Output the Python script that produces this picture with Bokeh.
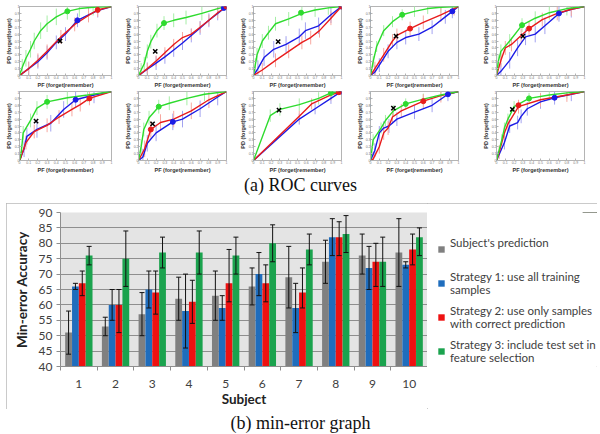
from bokeh.plotting import figure
from bokeh.layouts import column, row
from bokeh.models import (Range1d, FixedTicker, Legend, LegendItem, Whisker, Spacer,
                          TeeHead, ColumnDataSource, Label, InlineStyleSheet)
from bokeh.transform import dodge
from bokeh.embed import file_html
from bokeh.resources import INLINE

# ---------------- ROC curves (10 subjects) ----------------
roc_green_x = [
    [0, 0.03, 0.07, 0.12, 0.16, 0.23, 0.3, 0.4, 0.52, 0.65, 0.8, 1.0],
    [0, 0.03, 0.065, 0.1, 0.14, 0.21, 0.29, 0.4, 0.54, 0.72, 0.9, 1.0],
    [0, 0.02, 0.04, 0.1, 0.17, 0.25, 0.4, 0.55, 0.7, 0.85, 1.0],
    [0, 0.03, 0.07, 0.15, 0.25, 0.36, 0.5, 0.65, 0.8, 1.0],
    [0, 0.02, 0.05, 0.15, 0.29, 0.44, 0.6, 0.8, 1.0],
    [0, 0.02, 0.04, 0.12, 0.19, 0.3, 0.52, 0.74, 1.0],
    [0, 0.03, 0.06, 0.12, 0.23, 0.35, 0.55, 0.75, 1.0],
    [0, 0.19, 0.3, 0.52, 0.74, 0.88, 1.0],
    [0, 0.03, 0.12, 0.17, 0.26, 0.4, 0.6, 0.8, 1.0],
    [0, 0.06, 0.09, 0.13, 0.2, 0.37, 0.6, 0.8, 1.0],
]
roc_green_y = [
    [0, 0.12, 0.25, 0.38, 0.5, 0.65, 0.75, 0.85, 0.93, 0.97, 0.99, 1.0],
    [0, 0.08, 0.17, 0.35, 0.49, 0.65, 0.76, 0.8, 0.84, 0.9, 0.97, 1.0],
    [0, 0.15, 0.3, 0.5, 0.62, 0.75, 0.82, 0.9, 0.95, 0.98, 1.0],
    [0, 0.2, 0.42, 0.65, 0.78, 0.88, 0.93, 0.97, 0.99, 1.0],
    [0, 0.2, 0.35, 0.5, 0.73, 0.83, 0.91, 0.97, 1.0],
    [0, 0.13, 0.4, 0.58, 0.76, 0.85, 0.91, 0.95, 1.0],
    [0, 0.2, 0.45, 0.62, 0.78, 0.83, 0.9, 0.96, 1.0],
    [0, 0.65, 0.74, 0.81, 0.9, 0.98, 1.0],
    [0, 0.3, 0.47, 0.58, 0.72, 0.82, 0.89, 0.95, 1.0],
    [0, 0.3, 0.47, 0.6, 0.78, 0.9, 0.95, 0.98, 1.0],
]
roc_blue_x = [
    [0, 0.1, 0.2, 0.3, 0.4, 0.5, 0.63, 0.75, 0.85, 1.0],
    [0, 0.1, 0.2, 0.3, 0.4, 0.5, 0.6, 0.7, 0.8, 0.9, 1.0],
    [0, 0.05, 0.12, 0.23, 0.37, 0.52, 0.59, 0.74, 0.88, 1.0],
    [0, 0.05, 0.1, 0.2, 0.3, 0.4, 0.55, 0.7, 0.85, 0.93, 1.0],
    [0, 0.05, 0.15, 0.24, 0.33, 0.44, 0.55, 0.71, 0.85, 1.0],
    [0, 0.05, 0.08, 0.19, 0.34, 0.48, 0.61, 0.81, 1.0],
    [0, 0.05, 0.1, 0.2, 0.39, 0.5, 0.7, 0.9, 1.0],
    [0, 0.52, 0.7, 0.88, 1.0],
    [0, 0.05, 0.1, 0.15, 0.21, 0.3, 0.5, 0.7, 0.88, 1.0],
    [0, 0.01, 0.09, 0.15, 0.24, 0.28, 0.35, 0.5, 0.66, 0.85, 1.0],
]
roc_blue_y = [
    [0, 0.1, 0.2, 0.33, 0.48, 0.6, 0.8, 0.88, 0.94, 1.0],
    [0, 0.09, 0.18, 0.27, 0.37, 0.47, 0.58, 0.69, 0.8, 0.9, 1.0],
    [0, 0.1, 0.26, 0.38, 0.45, 0.56, 0.65, 0.72, 0.88, 1.0],
    [0, 0.05, 0.15, 0.35, 0.48, 0.55, 0.6, 0.7, 0.85, 0.93, 1.0],
    [0, 0.06, 0.22, 0.4, 0.56, 0.6, 0.72, 0.9, 0.96, 1.0],
    [0, 0.17, 0.35, 0.45, 0.54, 0.74, 0.88, 0.95, 1.0],
    [0, 0.05, 0.25, 0.4, 0.56, 0.6, 0.75, 0.92, 1.0],
    [0, 0.6, 0.75, 0.9, 1.0],
    [0, 0.15, 0.4, 0.47, 0.5, 0.6, 0.7, 0.8, 0.96, 1.0],
    [0, 0.03, 0.26, 0.5, 0.55, 0.64, 0.75, 0.85, 0.91, 0.96, 1.0],
]
roc_red_x = [
    [0, 0.1, 0.2, 0.3, 0.45, 0.6, 0.75, 0.85, 1.0],
    [0, 0.1, 0.2, 0.3, 0.4, 0.5, 0.6, 0.7, 0.8, 0.9, 1.0],
    [0, 0.1, 0.25, 0.4, 0.55, 0.65, 0.75, 0.88, 1.0],
    [0, 0.05, 0.15, 0.25, 0.3, 0.45, 0.6, 0.8, 0.95, 1.0],
    [0, 0.05, 0.1, 0.17, 0.28, 0.37, 0.52, 0.69, 0.85, 1.0],
    [0, 0.01, 0.07, 0.16, 0.3, 0.43, 0.57, 0.66, 0.76, 1.0],
    [0, 0.07, 0.14, 0.25, 0.4, 0.6, 0.8, 1.0],
    [0, 0.52, 0.66, 0.88, 1.0],
    [0, 0.03, 0.1, 0.15, 0.2, 0.25, 0.35, 0.6, 0.8, 1.0],
    [0, 0.03, 0.09, 0.13, 0.25, 0.5, 0.8, 1.0],
]
roc_red_y = [
    [0, 0.1, 0.22, 0.35, 0.56, 0.74, 0.87, 0.95, 1.0],
    [0, 0.1, 0.21, 0.33, 0.45, 0.55, 0.6, 0.7, 0.8, 0.91, 1.0],
    [0, 0.08, 0.22, 0.35, 0.48, 0.55, 0.65, 0.83, 1.0],
    [0, 0.1, 0.3, 0.5, 0.58, 0.68, 0.77, 0.88, 0.97, 1.0],
    [0, 0.22, 0.4, 0.45, 0.58, 0.68, 0.81, 0.9, 0.96, 1.0],
    [0, 0.03, 0.26, 0.42, 0.51, 0.63, 0.74, 0.81, 0.9, 1.0],
    [0, 0.17, 0.45, 0.55, 0.6, 0.72, 0.88, 1.0],
    [0, 0.64, 0.82, 0.95, 1.0],
    [0, 0.02, 0.2, 0.4, 0.47, 0.63, 0.72, 0.86, 0.94, 1.0],
    [0, 0.12, 0.4, 0.53, 0.78, 0.88, 0.95, 1.0],
]
# error half-widths of the ROC curves (per subject)
roc_green_err = [0.12, 0.1, 0.1, 0.08, 0.1, 0.1, 0.1, 0.09, 0.08, 0.08]
roc_blue_err = [0.1, 0.1, 0.12, 0.1, 0.12, 0.12, 0.12, 0.08, 0.1, 0.1]
roc_red_err = [0.1, 0.08, 0.1, 0.1, 0.1, 0.1, 0.12, 0.08, 0.1, 0.1]
# operating points (circles) and subject's prediction (x marker)
op_green = [(0.52, 0.93), (0.29, 0.76), (0.54, 0.91), (0.36, 0.88), (0.29, 0.73),
            (0.3, 0.85), (0.23, 0.78), (0.88, 0.98), (0.4, 0.82), (0.37, 0.9)]
op_blue = [(0.63, 0.8), (0.97, 0.98), (1.0, 1.0), (0.93, 0.93), (0.71, 0.9),
           (0.61, 0.88), (0.39, 0.56), (1.0, 1.0), (0.88, 0.96), (0.66, 0.91)]
op_red = [(0.85, 0.95), (1.0, 1.0), (1.0, 1.0), (0.45, 0.68), (0.37, 0.68),
          (0.76, 0.9), (0.14, 0.45), (0.97, 0.99), (0.6, 0.86), (0.25, 0.8)]
subject_point = [(0.44, 0.5), (0.19, 0.35), (0.28, 0.49), (0.29, 0.57), (0.3, 0.57),
                 (0.18, 0.57), (0.16, 0.53), (0.29, 0.73), (0.26, 0.76), (0.18, 0.74)]
roc_ticks = [0, 0.1, 0.2, 0.3, 0.4, 0.5, 0.6, 0.7, 0.8, 0.9, 1.0]

# ---------------- min-error bar chart ----------------
subjects = [1, 2, 3, 4, 5, 6, 7, 8, 9, 10]
subject_pred = [51, 53, 57, 62, 63, 66, 69, 74, 76, 77]
subject_pred_lo = [44, 50, 50, 55, 55, 60, 59, 67, 70, 66]
subject_pred_hi = [58, 56, 64, 69, 71, 72, 79, 81, 83, 88]
strategy1 = [66, 60, 65, 58, 59, 70, 59, 82, 72, 73]
strategy1_lo = [65, 55, 59, 46, 55, 63, 51, 76, 65, 72]
strategy1_hi = [67, 65, 71, 70, 63, 77, 67, 88, 79, 74]
strategy2 = [67, 60, 64, 61, 67, 67, 64, 82, 74, 78]
strategy2_lo = [63, 51, 57, 54, 61, 61, 59, 76, 66, 73]
strategy2_hi = [71, 65, 71, 68, 78, 73, 72, 87, 80, 83]
strategy3 = [76, 75, 77, 77, 76, 80, 78, 83, 74, 82]
strategy3_lo = [73, 66, 72, 70, 70, 74, 73, 77, 66, 76]
strategy3_hi = [79, 84, 82, 84, 82, 86, 83, 89, 82, 85]
series_labels = ["Subject's prediction\n ",
                 "Strategy 1: use all training\nsamples",
                 "Strategy 2: use only samples\nwith correct prediction",
                 "Strategy 3: include test set in\nfeature selection"]
series_colors = ["#808080", "#1f6dbd", "#ee1111", "#1ba34e"]
y_ticks = [40, 45, 50, 55, 60, 65, 70, 75, 80, 85, 90]

GREEN, BLUE, RED = "#2edb2e", "#1c1ce6", "#e81c1c"
GREEN_L, BLUE_L, RED_L = "#a6eea6", "#a3a3f0", "#f7a8a0"
AXC = "#b4b4b4"


def roc_figure(i, width, left, right, top, frame_h, bottom):
    f = figure(width=width, height=top + frame_h + bottom,
               x_range=Range1d(0, 1), y_range=Range1d(0, 1),
               output_backend="svg", toolbar_location=None,
               min_border_left=left, min_border_right=right,
               min_border_top=top, min_border_bottom=bottom)
    f.grid.visible = False
    f.outline_line_color = AXC
    f.xaxis.axis_label = "PF (forget|remember)"
    f.yaxis.axis_label = "PD (forget|forget)"
    for ax in (f.xaxis[0], f.yaxis[0]):
        ax.ticker = FixedTicker(ticks=roc_ticks)
        ax.major_label_text_font = "Liberation Sans"
        ax.major_label_text_font_size = "3.5px"
        ax.major_label_text_color = "#777777"
        ax.major_label_standoff = 0
        ax.major_tick_in = 2
        ax.major_tick_out = 0
        ax.major_tick_line_color = AXC
        ax.minor_tick_line_color = None
        ax.axis_line_color = AXC
        ax.axis_label_text_font = "Liberation Sans"
        ax.axis_label_text_font_size = "5.5px"
        ax.axis_label_text_font_style = "bold"
        ax.axis_label_text_color = "#333333"
        ax.axis_label_standoff = 0
    for xs, ys, err, lc in ((roc_green_x[i], roc_green_y[i], roc_green_err[i], GREEN_L),
                            (roc_blue_x[i], roc_blue_y[i], roc_blue_err[i], BLUE_L),
                            (roc_red_x[i], roc_red_y[i], roc_red_err[i], RED_L)):
        ex = xs[1:-1]
        ey = ys[1:-1]
        f.segment(x0=ex, x1=ex, y0=[v - err for v in ey], y1=[v + err for v in ey],
                  line_color=lc, line_width=1)
    f.line(roc_blue_x[i], roc_blue_y[i], line_color=BLUE, line_width=1.4)
    f.line(roc_red_x[i], roc_red_y[i], line_color=RED, line_width=1.4)
    f.line(roc_green_x[i], roc_green_y[i], line_color=GREEN, line_width=1.4)
    for pt, c in ((op_green[i], GREEN), (op_blue[i], BLUE), (op_red[i], RED)):
        f.scatter([pt[0]], [pt[1]], size=5, fill_color=c, line_color=c)
    f.scatter([subject_point[i][0]], [subject_point[i][1]], marker="x", size=6,
              line_color="black", line_width=1.5)
    return f


widths = [121, 115, 117, 126, 119]
lefts = [19, 13, 13, 13, 13]
rights = [10, 10, 12, 21, 14]
row1 = row([roc_figure(k, widths[k], lefts[k], rights[k], 6, 73, 11) for k in range(5)])
row2 = row([roc_figure(5 + k, widths[k], lefts[k], rights[k], 1, 73, 11) for k in range(5)])


def caption(text, height, y_screen):
    c = figure(width=600, height=height, x_range=Range1d(0, 1), y_range=Range1d(0, 1),
               output_backend="svg", toolbar_location=None, min_border=0)
    c.axis.visible = False
    c.grid.visible = False
    c.outline_line_color = None
    c.add_layout(Label(x=0.5, y=y_screen, y_units="screen", text=text,
                       text_align="center", text_baseline="middle",
                       text_font="Liberation Serif", text_font_size="18px",
                       text_color="#111111"))
    return c


cap_a = caption("(a) ROC curves", 28, 19)

# bar chart
src = ColumnDataSource(dict(
    subject=subjects,
    s0=subject_pred, s0_lo=subject_pred_lo, s0_hi=subject_pred_hi,
    s1=strategy1, s1_lo=strategy1_lo, s1_hi=strategy1_hi,
    s2=strategy2, s2_lo=strategy2_lo, s2_hi=strategy2_hi,
    s3=strategy3, s3_lo=strategy3_lo, s3_hi=strategy3_hi,
))
BAR_H = 206
TOP_B, BOT_B = 9, 41
p = figure(width=421, height=BAR_H, x_range=Range1d(0.5, 10.5), y_range=Range1d(40, 90),
           output_backend="svg", toolbar_location=None,
           min_border_left=54, min_border_right=0, min_border_top=TOP_B,
           min_border_bottom=BOT_B)
p.background_fill_color = "#e4e4e4"
p.outline_line_color = None
p.xgrid.grid_line_color = None
p.ygrid.grid_line_color = "#8e8e8e"
p.ygrid.ticker = FixedTicker(ticks=y_ticks)

offsets = [-0.28, -0.093, 0.093, 0.28]
for k in range(4):
    key = "s%d" % k
    p.vbar(x=dodge("subject", offsets[k]), top=key, bottom=40, width=0.185,
           fill_color=series_colors[k], line_color=None, source=src)
    p.add_layout(Whisker(base=dodge("subject", offsets[k]), lower=key + "_lo",
                         upper=key + "_hi", source=src, level="annotation",
                         line_color="#111111", line_width=1,
                         upper_head=TeeHead(size=5, line_color="#111111", line_width=1),
                         lower_head=TeeHead(size=5, line_color="#111111", line_width=1)))

xa = p.xaxis[0]
xa.ticker = FixedTicker(ticks=subjects, minor_ticks=[s - 0.5 for s in subjects] + [10.5])
xa.major_tick_in = 0
xa.major_tick_out = 0
xa.minor_tick_in = 0
xa.minor_tick_out = 4
xa.minor_tick_line_color = "#8e8e8e"
xa.axis_line_color = "#8e8e8e"
xa.major_label_standoff = 9
xa.axis_label = "Subject"
xa.axis_label_standoff = 0

ya = p.yaxis[0]
ya.ticker = FixedTicker(ticks=y_ticks)
ya.minor_tick_line_color = None
ya.major_tick_in = 0
ya.major_tick_out = 4
ya.major_tick_line_color = "#8e8e8e"
ya.axis_line_color = "#8e8e8e"
ya.major_label_standoff = 4
ya.axis_label = "Min-error Accuracy"
ya.axis_label_standoff = 6

for ax in (xa, ya):
    ax.major_label_text_font = "Lato"
    ax.major_label_text_font_size = "12px"
    ax.major_label_text_color = "#404040"
    ax.axis_label_text_font = "Lato"
    ax.axis_label_text_font_size = "13.5px"
    ax.axis_label_text_font_style = "bold"
    ax.axis_label_text_color = "#222222"

# legend panel (the legend's renderers lie outside its visible range)
leg = figure(width=170, height=BAR_H, x_range=Range1d(0, 1), y_range=Range1d(0, 1),
             output_backend="svg", toolbar_location=None,
             min_border_left=10, min_border_right=0, min_border_top=TOP_B,
             min_border_bottom=BOT_B)
leg.axis.visible = False
leg.grid.visible = False
leg.outline_line_color = None
leg_renderers = [leg.vbar(x="subject", top="s%d" % k, bottom=40, width=0.185,
                          fill_color=series_colors[k], line_color=None, source=src)
                 for k in range(4)]
legend = Legend(items=[LegendItem(label=series_labels[k], renderers=[leg_renderers[k]])
                       for k in range(4)],
                location=(0, 2), orientation="vertical",
                label_text_font="Lato", label_text_font_size="11.5px",
                label_text_color="#404040", glyph_width=8, glyph_height=8,
                spacing=8, padding=0, margin=0, label_standoff=5,
                border_line_color=None, background_fill_alpha=0)
leg.add_layout(legend)

bar_block = row(p, leg)
bar_block.stylesheets = [InlineStyleSheet(
    css=":host { outline: 1px solid #b8b8b8; outline-offset: -1px; }")]
bar_line = row(Spacer(width=6, height=BAR_H), bar_block)

cap_b = caption("(b) min-error graph", 24, 11)

layout = column(row1, row2, cap_a, bar_line, cap_b)
open("out.html", "w").write(file_html(layout, INLINE))
